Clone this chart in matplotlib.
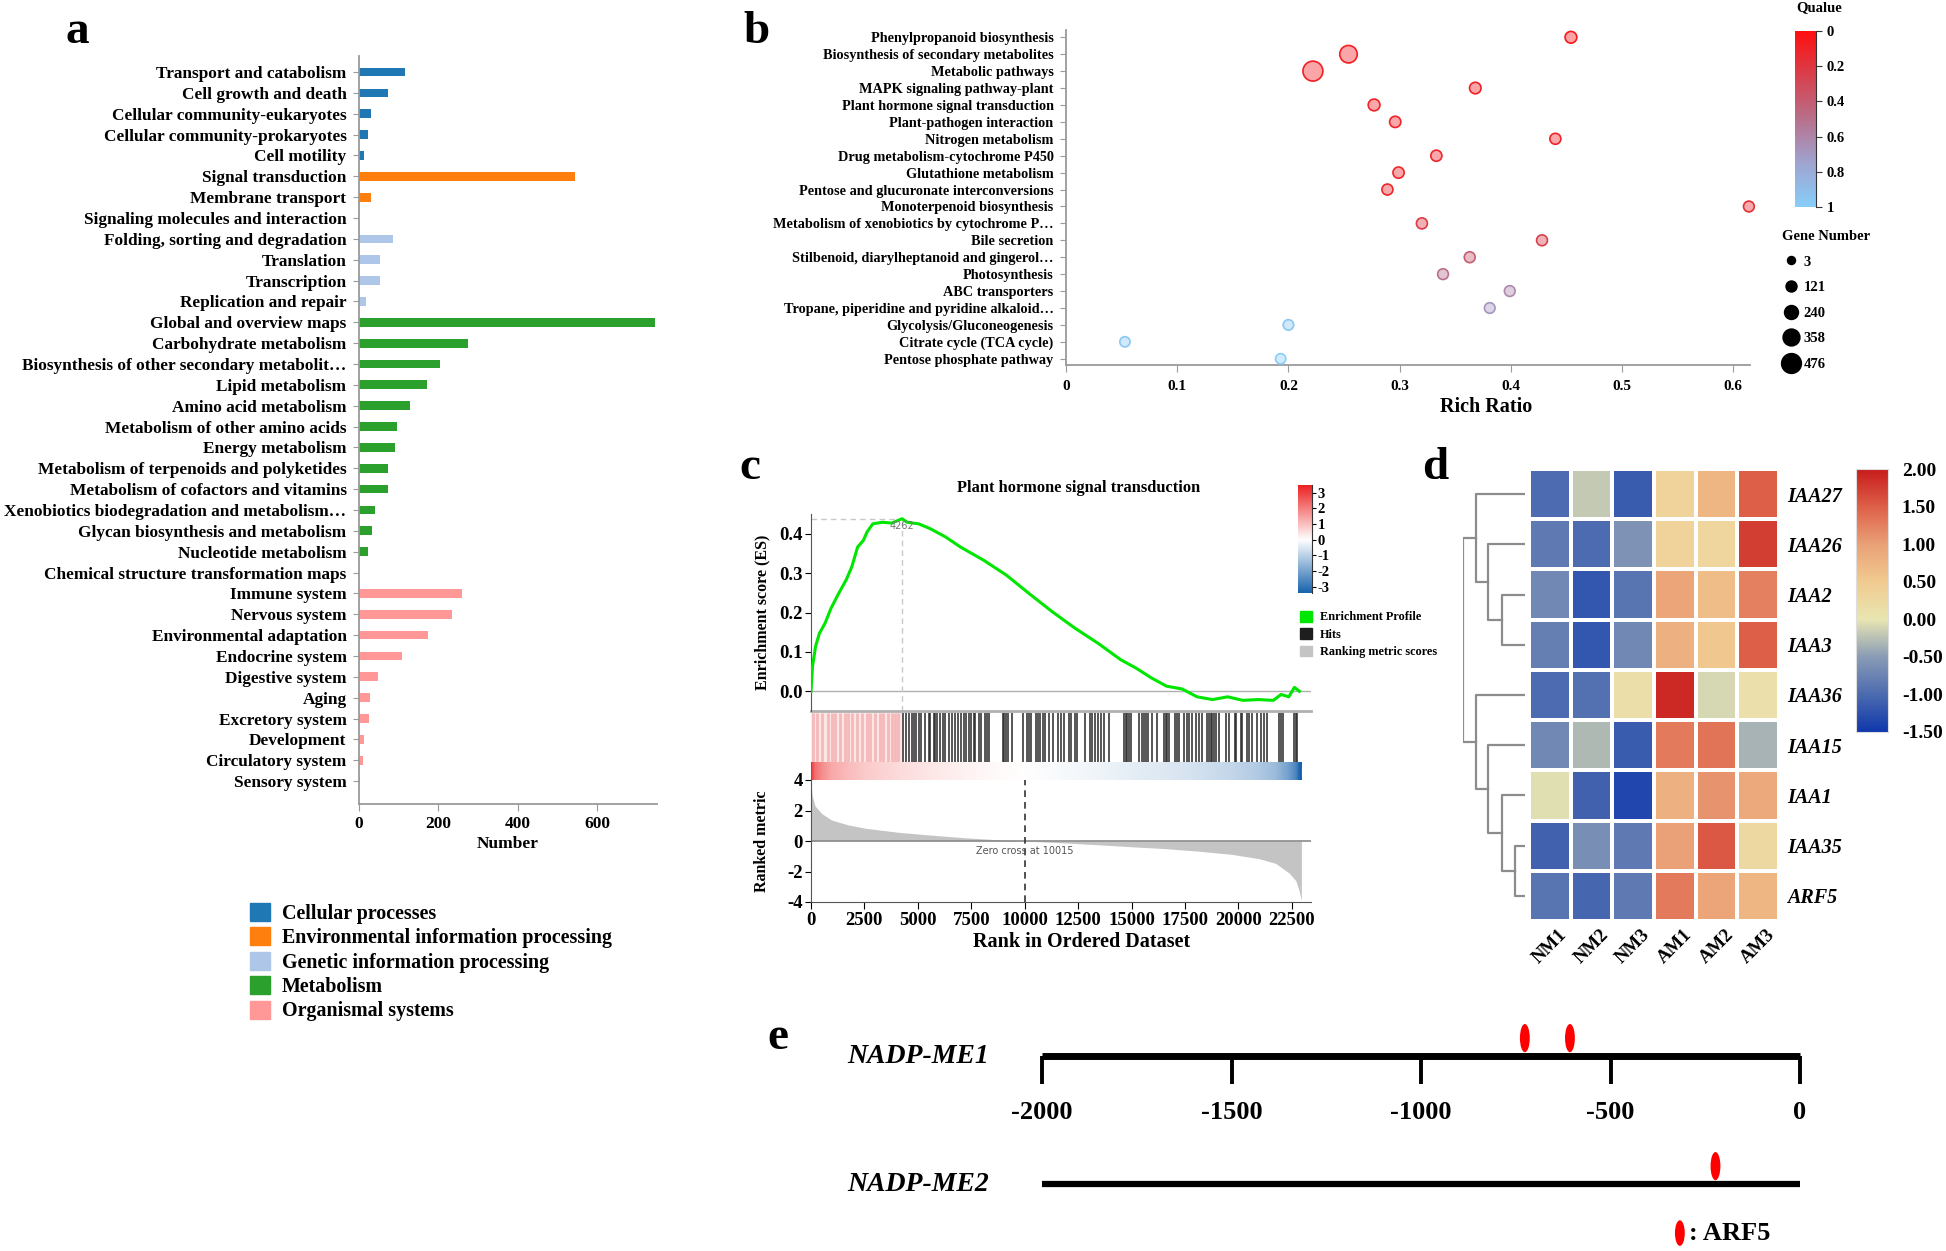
import numpy as np
import matplotlib
matplotlib.use("Agg")
import matplotlib.pyplot as plt
from matplotlib.colors import LinearSegmentedColormap
from matplotlib.patches import Patch, Ellipse
from matplotlib.lines import Line2D

W, H = 1946, 1251

# ---- panel a: KEGG classification ----
CLASS_NAMES = ["Cellular processes", "Environmental information processing",
               "Genetic information processing", "Metabolism", "Organismal systems"]
CLASS_COLORS = ["#1f77b4", "#ff7f0e", "#aec7e8", "#2ca02c", "#ff9896"]
KEGG_TERMS = [
    "Transport and catabolism", "Cell growth and death", "Cellular community-eukaryotes",
    "Cellular community-prokaryotes", "Cell motility", "Signal transduction",
    "Membrane transport", "Signaling molecules and interaction",
    "Folding, sorting and degradation", "Translation", "Transcription",
    "Replication and repair", "Global and overview maps", "Carbohydrate metabolism",
    "Biosynthesis of other secondary metabolit\u2026", "Lipid metabolism",
    "Amino acid metabolism", "Metabolism of other amino acids", "Energy metabolism",
    "Metabolism of terpenoids and polyketides", "Metabolism of cofactors and vitamins",
    "Xenobiotics biodegradation and metabolism\u2026", "Glycan biosynthesis and metabolism",
    "Nucleotide metabolism", "Chemical structure transformation maps",
    "Immune system", "Nervous system", "Environmental adaptation", "Endocrine system",
    "Digestive system", "Aging", "Excretory system", "Development",
    "Circulatory system", "Sensory system",
]
KEGG_COUNTS = [115, 74, 29, 22, 13, 543, 29, 1, 85, 53, 52, 18, 746, 275, 203, 171,
               128, 95, 90, 74, 73, 41, 32, 22, 1, 258, 234, 174, 109, 48, 27, 24,
               13, 9, 2]
KEGG_CLASS = [0] * 5 + [1] * 3 + [2] * 4 + [3] * 13 + [4] * 10

# ---- panel b: KEGG enrichment bubbles ----
PATH_TERMS = [
    "Phenylpropanoid biosynthesis", "Biosynthesis of secondary metabolites",
    "Metabolic pathways", "MAPK signaling pathway-plant",
    "Plant hormone signal transduction", "Plant-pathogen interaction",
    "Nitrogen metabolism", "Drug metabolism-cytochrome P450", "Glutathione metabolism",
    "Pentose and glucuronate interconversions", "Monoterpenoid biosynthesis",
    "Metabolism of xenobiotics by cytochrome P\u2026", "Bile secretion",
    "Stilbenoid, diarylheptanoid and gingerol\u2026", "Photosynthesis", "ABC transporters",
    "Tropane, piperidine and pyridine alkaloid\u2026", "Glycolysis/Gluconeogenesis",
    "Citrate cycle (TCA cycle)", "Pentose phosphate pathway",
]
RICH_RATIO = [0.454, 0.254, 0.222, 0.368, 0.277, 0.296, 0.440, 0.333, 0.299, 0.289,
              0.614, 0.320, 0.428, 0.363, 0.339, 0.399, 0.381, 0.200, 0.053, 0.193]
GENE_NUMBER = [150, 380, 476, 140, 150, 130, 120, 125, 130, 120,
               110, 120, 115, 115, 110, 110, 105, 100, 90, 90]
QVALUE = [0.05, 0.08, 0.08, 0.08, 0.1, 0.1, 0.1, 0.12, 0.12, 0.12,
          0.15, 0.22, 0.25, 0.4, 0.5, 0.62, 0.68, 0.95, 0.97, 1.0]
LEGEND_GENES = [3, 121, 240, 358, 476]
Q_TICKS = [0, 0.2, 0.4, 0.6, 0.8, 1]

# ---- panel c: GSEA ----
ES_RANK = [0, 71, 214, 393, 660, 930, 1290, 1640, 1910, 2180, 2450, 2620, 2890, 3340,
           3790, 4262, 4500, 5040, 5570, 6290, 7000, 8070, 9140, 10210, 11290, 12360,
           13430, 14500, 15210, 15930, 16640, 17360, 18070, 18790, 19500, 20210, 20930,
           21640, 22000, 22360, 22625, 22860]
ES_SCORE = [0.0, 0.063, 0.114, 0.147, 0.173, 0.21, 0.248, 0.282, 0.316, 0.366, 0.383,
            0.404, 0.425, 0.429, 0.427, 0.438, 0.429, 0.425, 0.413, 0.392, 0.366, 0.333,
            0.295, 0.248, 0.202, 0.160, 0.122, 0.080, 0.059, 0.034, 0.013, 0.006,
            -0.014, -0.021, -0.014, -0.023, -0.021, -0.023, -0.008, -0.014, 0.010, 0.0]
PEAK_RANK, PEAK_ES = 4262, 0.438
LEAD_HITS = [109, 266, 500, 813, 969, 1125, 1359, 1594, 1750, 1906, 2141, 2375, 2609,
             2766, 3000, 3234, 3391, 3625, 3781, 3938, 4094]
HITS = [4328, 4438, 4563, 4719, 4797, 4906, 5031, 5156, 5344, 5500, 5547, 5734, 5813,
        5891, 6047, 6156, 6281, 6438, 6594, 6719, 6875, 7016, 7141, 7266, 7375, 7500,
        7609, 7688, 7844, 7953, 8125, 8234, 8313, 8969, 9047, 9125, 9219, 9406, 9906,
        10109, 10188, 10297, 10531, 10625, 10734, 10844, 10969, 11156, 11313, 11547,
        11703, 11859, 12094, 12188, 12375, 12453, 12813, 13078, 13156, 13313, 13438,
        13594, 13703, 13938, 14641, 14719, 14797, 14875, 14984, 15344, 15500, 15578,
        15656, 15781, 15969, 16203, 16516, 16594, 16672, 16750, 17031, 17109, 17219,
        17453, 17578, 17688, 17844, 18000, 18156, 18313, 18547, 18625, 18703, 18781,
        18859, 18938, 19094, 19406, 19563, 19844, 19906, 20109, 20188, 20422, 20500,
        20625, 20891, 21047, 21203, 21359, 21906, 21984, 22094, 22609, 22688, 22766]
METRIC_RANK = [0, 62, 188, 500, 969, 1750, 2531, 4094, 5656, 7219, 8781, 10015, 11906,
               13469, 15031, 16594, 18156, 19719, 20969, 21750, 22375, 22688, 22844,
               22950]
METRIC_VALUE = [3.8, 2.95, 2.3, 1.8, 1.37, 1.05, 0.84, 0.57, 0.38, 0.21, 0.08, 0.0,
                -0.13, -0.25, -0.38, -0.5, -0.67, -0.88, -1.16, -1.47, -2.1, -2.6,
                -3.26, -3.9]
ZERO_CROSS = 10015

# ---- panel d: heatmap ----
GENES = ["IAA27", "IAA26", "IAA2", "IAA3", "IAA36", "IAA15", "IAA1", "IAA35", "ARF5"]
SAMPLES = ["NM1", "NM2", "NM3", "AM1", "AM2", "AM3"]
EXPR = [
    [-1.0, -0.2, -1.15, 0.35, 0.75, 1.5],
    [-0.85, -1.0, -0.6, 0.35, 0.3, 1.75],
    [-0.7, -1.2, -0.9, 0.95, 0.65, 1.25],
    [-0.8, -1.2, -0.7, 0.8, 0.55, 1.5],
    [-1.0, -0.95, 0.15, 1.9, -0.1, 0.1],
    [-0.7, -0.3, -1.15, 1.3, 1.35, -0.35],
    [-0.05, -1.1, -1.35, 0.8, 1.1, 0.9],
    [-1.1, -0.65, -0.85, 1.0, 1.55, 0.25],
    [-0.9, -1.05, -0.85, 1.3, 0.95, 0.75],
]
MERGES = [("IAA35", "ARF5", 30, "c1"), ("IAA2", "IAA3", 67, "c2"),
          ("IAA1", "c1", 67, "c3"), ("IAA26", "c2", 105, "c4"),
          ("IAA15", "c3", 105, "c5"), ("IAA27", "c4", 142, "c6"),
          ("IAA36", "c5", 142, "c7"), ("c6", "c7", 178, "root")]

# ---- panel e: promoter sites ----
PROMOTERS = ["NADP-ME1", "NADP-ME2"]
ARF5_SITES = [[-726, -607], [-223]]
PROMOTER_TICKS = [-2000, -1500, -1000, -500, 0]

GREY = "#9a9a9a"
QCMAP = LinearSegmentedColormap.from_list("q", ["#ff1010", "#d8404c", "#b8708c", "#a0a4d0", "#87cefa"])
GSEA_CMAP = LinearSegmentedColormap.from_list("g", ["#0b5aa8", "#ffffff", "#ec1c1c"])
HM_NODES = [(-1.5, "#1038ac"), (-1.0, "#4d6cb0"), (-0.5, "#8a9cb6"), (0.0, "#e9e6b2"),
            (0.5, "#f1cb90"), (1.0, "#eaa177"), (1.5, "#de6049"), (2.0, "#c81c1c")]
HM_CMAP = LinearSegmentedColormap.from_list(
    "hm", [((v + 1.5) / 3.5, c) for v, c in HM_NODES])

plt.rcParams.update({
    "font.family": "serif",
    "font.serif": ["Liberation Serif", "DejaVu Serif"],
    "font.weight": "bold",
    "axes.labelweight": "bold",
    "axes.titleweight": "bold",
})


def px_axes(fig, left, top, right, bottom):
    return fig.add_axes([left / W, 1 - bottom / H, (right - left) / W, (bottom - top) / H])


def gene_size(g):
    d_pt = (8 + 0.025 * g) * 0.72
    return d_pt ** 2


fig = plt.figure(figsize=(W / 100, H / 100), dpi=100)

# panel letters
for letter, x, y in [("a", 77, 43), ("b", 757, 43), ("c", 750, 479), ("d", 1435, 479), ("e", 778, 1049)]:
    fig.text(x / W, 1 - y / H, letter, fontsize=34, ha="center", va="baseline")

# ---------------- panel a ----------------
ax = px_axes(fig, 359, 56, 657, 804)
ya = np.arange(len(KEGG_TERMS))
ax.barh(ya, KEGG_COUNTS, height=0.42, color=[CLASS_COLORS[c] for c in KEGG_CLASS])
ax.set_ylim(len(KEGG_TERMS) - 1 + 1.1, -0.77)
ax.set_xlim(0, 750)
ax.set_yticks(ya, KEGG_TERMS, fontsize=12.45)
ax.set_xticks([0, 200, 400, 600])
ax.tick_params(axis="y", length=4, color=GREY, pad=5)
ax.tick_params(axis="x", length=5, color=GREY, labelsize=12.5)
for s in ["top", "right"]:
    ax.spines[s].set_visible(False)
for s in ["left", "bottom"]:
    ax.spines[s].set_color(GREY)
    ax.spines[s].set_linewidth(1.3)
ax.set_xlabel("Number", fontsize=12.5, labelpad=3)
fig.legend([Patch(facecolor=c, edgecolor=c) for c in CLASS_COLORS], CLASS_NAMES,
           loc="upper left", bbox_to_anchor=(250 / W, 1 - 903 / H), frameon=False,
           fontsize=14.4, handlelength=1.0, handleheight=1.0, handletextpad=0.6,
           labelspacing=0.18, borderpad=0, borderaxespad=0)

# ---------------- panel b ----------------
axb = px_axes(fig, 1066, 30, 1750, 365)
yb = np.arange(len(PATH_TERMS))
rgba = QCMAP(np.array(QVALUE))
face = rgba.copy()
face[:, 3] = 0.4
axb.scatter(RICH_RATIO, yb, s=[gene_size(g) for g in GENE_NUMBER], facecolors=face,
            edgecolors=rgba, linewidths=1.2, zorder=3, clip_on=False)
axb.set_ylim(len(PATH_TERMS) - 1 + 0.37, -0.43)
axb.set_xlim(0, 0.615)
axb.set_yticks(yb, PATH_TERMS, fontsize=10.3)
axb.set_xticks([0, 0.1, 0.2, 0.3, 0.4, 0.5, 0.6], ["0", "0.1", "0.2", "0.3", "0.4", "0.5", "0.6"])
axb.tick_params(axis="y", length=4, color=GREY, pad=5)
axb.tick_params(axis="x", length=5, color=GREY, labelsize=11, pad=6)
for s in ["top", "right"]:
    axb.spines[s].set_visible(False)
for s in ["left", "bottom"]:
    axb.spines[s].set_color(GREY)
    axb.spines[s].set_linewidth(1.3)
axb.set_xlabel("Rich Ratio", fontsize=14.5)
axb.xaxis.set_label_coords(0.614, -0.095)

caxb = px_axes(fig, 1795, 31, 1816, 207)
caxb.imshow(np.linspace(0, 1, 256)[:, None], aspect="auto", cmap=QCMAP, extent=(0, 1, 1, 0))
caxb.set_xlim(0, 1)
caxb.set_ylim(1, 0)
caxb.set_xticks([])
caxb.yaxis.tick_right()
caxb.set_yticks(Q_TICKS, [f"{v:g}" for v in Q_TICKS], fontsize=10.5)
caxb.tick_params(axis="y", length=4, color="#333333")
for s in ["left", "top", "bottom"]:
    caxb.spines[s].set_visible(False)
caxb.spines["right"].set_color("#333333")
caxb.text(1.14, 1.135, "Qualue", transform=caxb.transAxes, ha="center", va="center", fontsize=10.5)

size_handles = [Line2D([], [], ls="", marker="o", color="black", markersize=np.sqrt(gene_size(g)))
                for g in LEGEND_GENES]
fig.legend(size_handles, [str(g) for g in LEGEND_GENES], title="Gene Number",
           loc="upper left", bbox_to_anchor=(1782 / W, 1 - 230 / H), frameon=False,
           fontsize=10.5, title_fontproperties={"weight": "bold", "size": 10.5},
           labelspacing=0.85, handletextpad=0.3, borderpad=0, borderaxespad=0,
           alignment="left", handlelength=1.2)

# ---------------- panel c ----------------
XMAX = 23400
ax_es = px_axes(fig, 811, 514, 1311, 711)
ax_es.plot(ES_RANK, ES_SCORE, color="#00e600", lw=2.2, zorder=3)
ax_es.axhline(0, color="#b0b0b0", lw=1)
ax_es.plot([0, PEAK_RANK], [PEAK_ES, PEAK_ES], ls=(0, (4, 3)), color="#c8c8c8", lw=1)
ax_es.plot([PEAK_RANK, PEAK_RANK], [-0.05, PEAK_ES], ls=(0, (4, 3)), color="#c8c8c8", lw=1)
ax_es.text(PEAK_RANK, PEAK_ES - 0.006, str(PEAK_RANK), fontsize=7, color="#777777",
           ha="center", va="top", family="DejaVu Sans", fontweight="normal")
ax_es.set_xlim(0, XMAX)
ax_es.set_ylim(-0.05, 0.45)
ax_es.set_xticks([])
ax_es.set_yticks([0, 0.1, 0.2, 0.3, 0.4], ["0.0", "0.1", "0.2", "0.3", "0.4"], fontsize=13.5)
ax_es.tick_params(axis="y", length=4, pad=2)
for s in ["top", "right", "bottom"]:
    ax_es.spines[s].set_visible(False)
ax_es.spines["left"].set_color("#555555")
ax_es.axhline(-0.05, color="#b0b0b0", lw=2, clip_on=False)
ax_es.set_ylabel("Enrichment score (ES)", fontsize=11.5)
ax_es.yaxis.set_label_coords(-0.082, 0.5)
ax_es.set_title("Plant hormone signal transduction", fontsize=11.8, pad=16, x=0.535)

ax_hits = px_axes(fig, 811, 713, 1311, 762)
ax_hits.axvspan(0, PEAK_RANK, color="#fde6e6", lw=0)
ax_hits.vlines(LEAD_HITS, 0, 1, color="#f5b9b9", lw=2)
ax_hits.vlines(HITS, 0, 1, color="#2a2a2a", lw=1.3, alpha=0.85)
ax_hits.set_xlim(0, XMAX)
ax_hits.set_ylim(0, 1)
ax_hits.axis("off")

ax_strip = px_axes(fig, 811, 762, 1311, 781)
sx, sy = np.meshgrid(METRIC_RANK, [0, 1])
ax_strip.pcolormesh(sx, sy, np.vstack([METRIC_VALUE, METRIC_VALUE]), cmap=GSEA_CMAP,
                    vmin=-3.6, vmax=3.6, shading="gouraud")
ax_strip.set_xlim(0, XMAX)
ax_strip.set_ylim(0, 1)
ax_strip.axis("off")

ax_rm = px_axes(fig, 811, 780, 1311, 902)
ax_rm.fill_between(METRIC_RANK, METRIC_VALUE, 0, color="#c4c4c4", lw=0)
ax_rm.axhline(0, color="#8a8a8a", lw=1.2)
ax_rm.axvline(ZERO_CROSS, ls=(0, (4, 3)), color="#333333", lw=1.2)
ax_rm.text(ZERO_CROSS, -0.35, f"Zero cross at {ZERO_CROSS}", fontsize=7, color="#555555",
           ha="center", va="top", family="DejaVu Sans", fontweight="normal")
ax_rm.set_xlim(0, XMAX)
ax_rm.set_ylim(-4, 4)
ax_rm.set_yticks([4, 2, 0, -2, -4], ["4", "2", "0", "-2", "-4"], fontsize=13.5)
ax_rm.set_xticks(range(0, 22501, 2500))
ax_rm.tick_params(axis="x", labelsize=13.5, length=5, pad=2)
ax_rm.tick_params(axis="y", length=4, pad=2)
for s in ["top", "right"]:
    ax_rm.spines[s].set_visible(False)
for s in ["left", "bottom"]:
    ax_rm.spines[s].set_color("#555555")
ax_rm.set_ylabel("Ranked metric", fontsize=11.5)
ax_rm.yaxis.set_label_coords(-0.082, 0.5)
ax_rm.set_xlabel("Rank in Ordered Dataset", fontsize=14.5)
ax_rm.xaxis.set_label_coords(0.542, -0.245)

caxc = px_axes(fig, 1298, 485, 1312, 593)
caxc.imshow(np.linspace(3.5, -3.4, 256)[:, None], aspect="auto", cmap=GSEA_CMAP,
            vmin=-3.6, vmax=3.6, extent=(0, 1, -3.4, 3.5))
caxc.set_xlim(0, 1)
caxc.set_ylim(-3.4, 3.5)
caxc.set_xticks([])
caxc.yaxis.tick_right()
caxc.set_yticks([3, 2, 1, 0, -1, -2, -3], ["3", "2", "1", "0", "-1", "-2", "-3"], fontsize=10.5)
caxc.tick_params(axis="y", length=3, pad=1)
for s in ["left", "top", "bottom"]:
    caxc.spines[s].set_visible(False)
caxc.spines["right"].set_color("#333333")

fig.legend([Patch(color="#00e600"), Patch(color="#1e1e1e"), Patch(color="#c4c4c4")],
           ["Enrichment Profile", "Hits", "Ranking metric scores"], loc="upper left",
           bbox_to_anchor=(1300 / W, 1 - 611 / H), frameon=False, fontsize=8.8,
           handlelength=0.95, handleheight=0.95, handletextpad=0.7, labelspacing=0.4,
           borderpad=0, borderaxespad=0)

# ---------------- panel d ----------------
axd = px_axes(fig, 1529, 469, 1779, 921)
axd.pcolormesh(np.array(EXPR), cmap=HM_CMAP, vmin=-1.5, vmax=2.0, edgecolors="white", linewidth=1.5)
axd.set_xlim(0, len(SAMPLES))
axd.set_ylim(len(GENES), 0)
axd.set_xticks(np.arange(len(SAMPLES)) + 0.5, SAMPLES, rotation=45, fontsize=13.5, ha="center")
axd.yaxis.tick_right()
axd.set_yticks(np.arange(len(GENES)) + 0.5, GENES, fontsize=14.5, fontstyle="italic")
axd.tick_params(length=0)
axd.tick_params(axis="y", pad=6)
axd.tick_params(axis="x", pad=4)
for s in axd.spines.values():
    s.set_visible(False)

axdn = px_axes(fig, 1463, 469, 1525, 921)
ypos = {g: i + 0.5 for i, g in enumerate(GENES)}
hgt = {g: 0 for g in GENES}
for a, b, h, name in MERGES:
    axdn.plot([hgt[a], h, h, hgt[b]], [ypos[a], ypos[a], ypos[b], ypos[b]], color="#8c8c8c", lw=1.6)
    ypos[name] = (ypos[a] + ypos[b]) / 2
    hgt[name] = h
axdn.set_xlim(MERGES[-1][2], 0)
axdn.set_ylim(len(GENES), 0)
axdn.axis("off")

caxd = px_axes(fig, 1856, 469, 1888, 732)
caxd.imshow(np.linspace(-1.5, 2.0, 256)[:, None], aspect="auto", cmap=HM_CMAP, vmin=-1.5,
            vmax=2.0, origin="lower", extent=(0, 1, -1.5, 2.0))
caxd.set_xlim(0, 1)
caxd.set_ylim(-1.5, 2.0)
caxd.set_xticks([])
caxd.yaxis.tick_right()
hm_ticks = np.arange(-1.5, 2.01, 0.5)
caxd.set_yticks(hm_ticks, [f"{v:.2f}" for v in hm_ticks], fontsize=14)
caxd.tick_params(axis="y", length=0, pad=10)
for s in caxd.spines.values():
    s.set_color("#dddddd")

# ---------------- panel e ----------------
axe = px_axes(fig, 1042, 1000, 1800, 1251)
axe.set_xlim(-2000, 0)
axe.set_ylim(-0.523, 1.4375)
axe.axis("off")
rows = [1, 0]
axe.plot([-2000, 0], [1, 1], color="black", lw=5, solid_capstyle="butt", clip_on=False)
axe.vlines(PROMOTER_TICKS, 0.78, 1, color="black", lw=2.8, clip_on=False)
for t in PROMOTER_TICKS:
    axe.text(t, 0.555, str(t), ha="center", va="center", fontsize=19)
axe.plot([-2000, 0], [0, 0], color="black", lw=4.5, solid_capstyle="butt", clip_on=False)
for name, row, sites in zip(PROMOTERS, rows, ARF5_SITES):
    axe.text(-2140, row, name, ha="right", va="center", fontsize=20, fontstyle="italic")
    for pos in sites:
        axe.add_patch(Ellipse((pos, row + 0.14), 26, 0.22, color="#ff0000", lw=0, clip_on=False))
axe.add_patch(Ellipse((-317, -0.383), 26, 0.2, color="#ff0000", lw=0, clip_on=False))
axe.text(-292, -0.383, ": ARF5", ha="left", va="center", fontsize=19)

fig.savefig("out.png", dpi=100)
